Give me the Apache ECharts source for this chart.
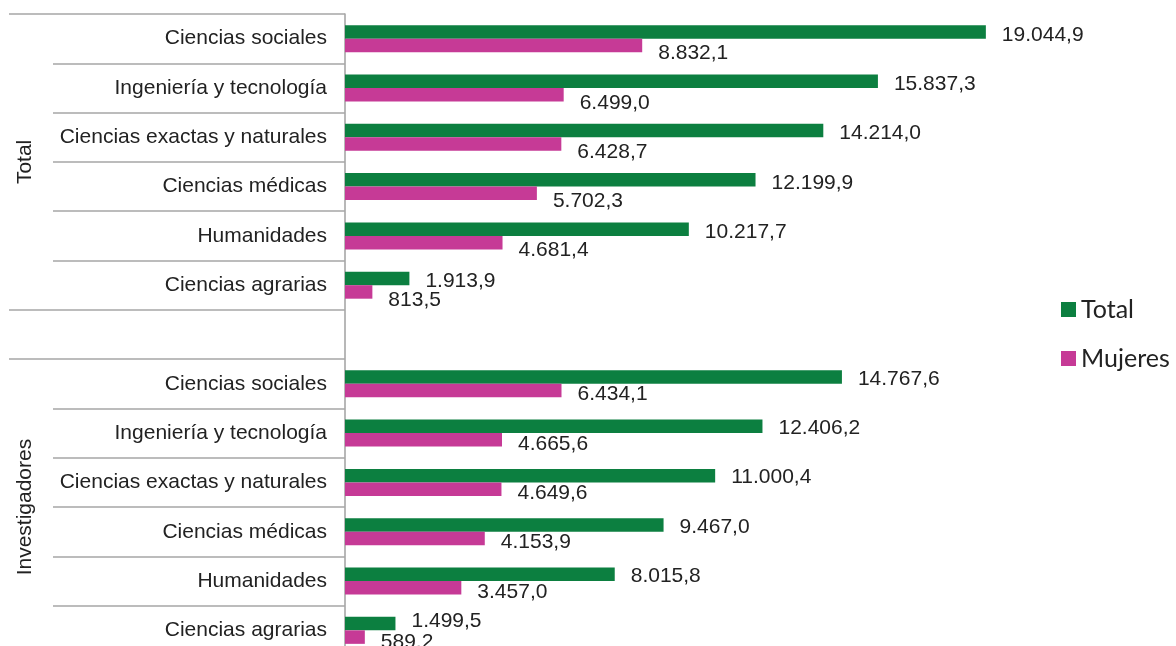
<!DOCTYPE html>
<html>
<head>
<meta charset="utf-8">
<script src="https://cdn.jsdelivr.net/npm/echarts@6/dist/echarts.min.js"></script>
<style>
html,body{margin:0;padding:0;background:#fff;}
#c{width:1176px;height:646px;}
</style>
</head>
<body>
<div id="c"></div>
<script>
var categories = [
  'Ciencias sociales','Ingeniería y tecnología','Ciencias exactas y naturales','Ciencias médicas','Humanidades','Ciencias agrarias',
  '',
  'Ciencias sociales','Ingeniería y tecnología','Ciencias exactas y naturales','Ciencias médicas','Humanidades','Ciencias agrarias'
];
var totalValues = [19044.9, 15837.3, 14214.0, 12199.9, 10217.7, 1913.9, null, 14767.6, 12406.2, 11000.4, 9467.0, 8015.8, 1499.5];
var mujeresValues = [8832.1, 6499.0, 6428.7, 5702.3, 4681.4, 813.5, null, 6434.1, 4665.6, 4649.6, 4153.9, 3457.0, 589.2];
var groupLabels = {3: 'Total', 10: 'Investigadores'};
var seriesNames = ['Total', 'Mujeres'];

function fmt(v) {
  var s = v.toFixed(1).split('.');
  var intPart = s[0].replace(/\B(?=(\d{3})+(?!\d))/g, '.');
  return intPart + ',' + s[1];
}

var gridLine = {color: '#A6A6A6', width: 1.5};
var labelFont = 'Liberation Sans, Arial, sans-serif';

var chart = echarts.init(document.getElementById('c'), null, {renderer: 'canvas'});

// label vertical nudge: first group vs second group (Excel-like placement)
function mkData(vals, dyFirst, dySecond, dyLast) {
  return vals.map(function (v, i) {
    if (v === null) return null;
    var dy = i < 6 ? dyFirst : dySecond;
    if (i === vals.length - 1 && dyLast !== undefined) dy = dyLast;
    return {value: v, label: {offset: [0, dy]}};
  });
}

chart.setOption({
  animation: false,
  backgroundColor: '#ffffff',
  grid: {left: 345, top: 14, width: 673, height: 641, containLabel: false, outerBoundsMode: 'none'},
  xAxis: {type: 'value', min: 0, max: 20000, show: false, splitLine: {show: false}},
  yAxis: [
    {
      type: 'category', inverse: true, data: categories, position: 'left',
      axisLine: {show: true, lineStyle: {color: '#A0A0A0', width: 1.5}},
      axisTick: {show: true, length: 292, interval: 0, lineStyle: gridLine},
      axisLabel: {fontSize: 21, color: '#222', margin: 18, fontFamily: labelFont, interval: 0, padding: [3, 0, 0, 0]}
    },
    {
      type: 'category', inverse: true, data: categories, position: 'left',
      axisLine: {show: false},
      axisLabel: {show: false},
      axisTick: {show: true, length: 336, lineStyle: gridLine,
        interval: function (i) { return i === 0 || i === 6 || i === 7; }}
    },
    {
      type: 'value', inverse: true, min: 0, max: 13, interval: 1, position: 'left',
      axisLine: {show: false}, axisTick: {show: false}, splitLine: {show: false},
      axisLabel: {
        rotate: 90, fontSize: 21, color: '#222', fontFamily: labelFont, margin: 309,
        formatter: function (v) { return groupLabels[v] || ''; }
      }
    }
  ],
  legend: {
    orient: 'vertical', left: 1061, top: 297, padding: 0,
    itemWidth: 15, itemHeight: 15, itemGap: 24, icon: 'rect',
    textStyle: {fontSize: 25, color: '#222', fontFamily: 'Lato, sans-serif'},
    data: seriesNames
  },
  series: [
    {
      name: seriesNames[0], type: 'bar', yAxisIndex: 0,
      data: mkData(totalValues, 3, 2, -2),
      barWidth: 13.5, barGap: '0%',
      itemStyle: {color: '#0C7F40'},
      label: {show: true, position: 'right', distance: 16,
        fontSize: 21, color: '#222', fontFamily: labelFont,
        formatter: function (p) { return fmt(p.value); }}
    },
    {
      name: seriesNames[1], type: 'bar', yAxisIndex: 0,
      data: mkData(mujeresValues, 8, 4, 5),
      barWidth: 13.5, barGap: '0%',
      itemStyle: {color: '#C63A96'},
      label: {show: true, position: 'right', distance: 16,
        fontSize: 21, color: '#222', fontFamily: labelFont,
        formatter: function (p) { return fmt(p.value); }}
    }
  ]
});
</script>
</body>
</html>
